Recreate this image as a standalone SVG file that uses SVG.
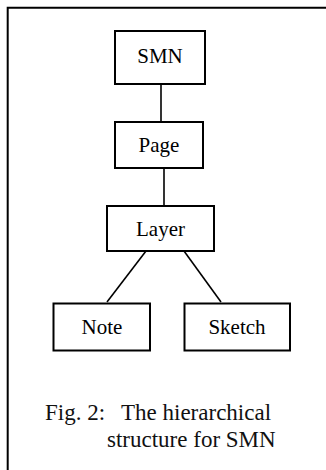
<svg xmlns="http://www.w3.org/2000/svg" width="326" height="470" viewBox="0 0 326 470">
<style>
.box{fill:#fff;stroke:#000;stroke-width:2}
.lbl{font-family:"Liberation Serif","Times New Roman",serif;font-size:21px;fill:#000;text-anchor:middle}
.cap{font-family:"Liberation Serif","Times New Roman",serif;font-size:23px;fill:#111}
.conn line{stroke:#000;stroke-width:1.6}
</style>
<rect width="326" height="470" fill="#fff"/>
<path d="M7.7,470 V7.8 H326" fill="none" stroke="#000" stroke-width="2"/>
<g id="connectors" class="conn">
<line x1="161" y1="84" x2="161" y2="122"/>
<line x1="164" y1="168" x2="164" y2="206"/>
<line x1="146" y1="251" x2="107" y2="302"/>
<line x1="184" y1="251" x2="221" y2="302"/>
</g>
<g id="smn"><rect class="box" x="115" y="31" width="90" height="53"/><text class="lbl" x="160" y="63">SMN</text></g>
<g id="page"><rect class="box" x="115" y="122" width="88" height="46" stroke-width="2.4"/><text class="lbl" x="159" y="152">Page</text></g>
<g id="layer"><rect class="box" x="107" y="206" width="107" height="45"/><text class="lbl" x="160.5" y="236">Layer</text></g>
<g id="note"><rect class="box" x="53.5" y="303.5" width="96.5" height="47"/><text class="lbl" x="102" y="334">Note</text></g>
<g id="sketch"><rect class="box" x="184.5" y="303.5" width="105.5" height="47"/><text class="lbl" x="237" y="334">Sketch</text></g>
<g id="caption">
<text class="cap" y="420"><tspan x="45">Fig. 2:</tspan><tspan x="121">The hierarchical</tspan></text>
<text class="cap" x="107" y="447">structure for SMN</text>
</g>
</svg>
